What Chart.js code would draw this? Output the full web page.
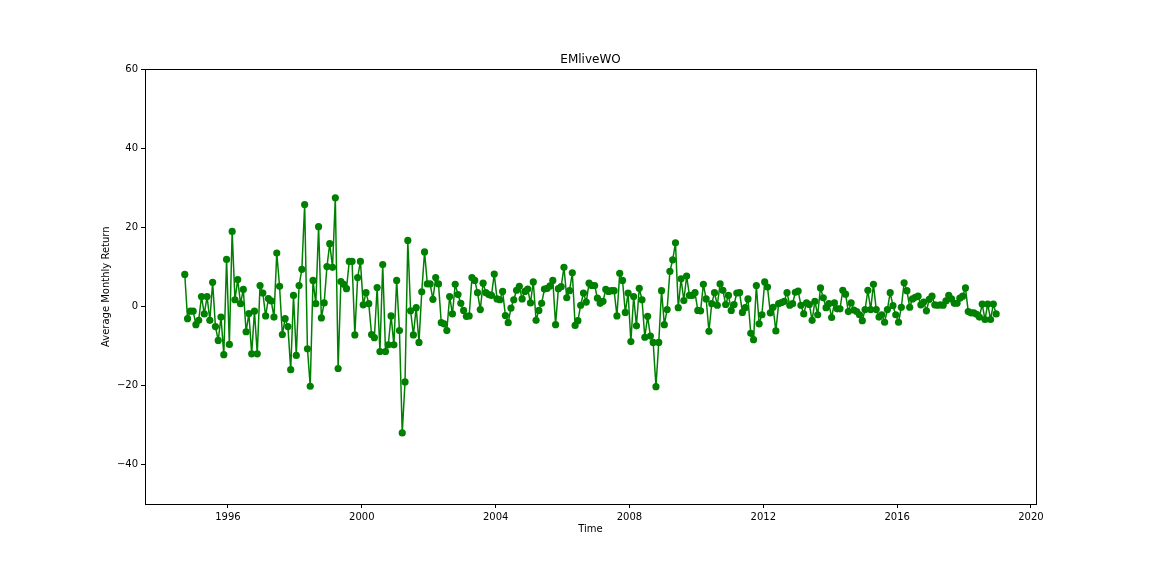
<!DOCTYPE html>
<html>
<head>
<meta charset="utf-8">
<script src="https://cdn.jsdelivr.net/npm/chart.js@4"></script>
<style>
  html, body { margin: 0; padding: 0; background: #fff; }
  #wrap { width: 1152px; height: 576px; }
  canvas { display: block; }
</style>
</head>
<body>
<div id="wrap"><canvas id="c" width="1152" height="576"></canvas></div>
<script>
// ---- data ----
const chartTitle = "EMliveWO";
const xAxisTitle = "Time";
const yAxisTitle = "Average Monthly Return";
const startYear = 1994;
const startMonth = 9; // first observation: Sep 1994 (monthly)
const returnsValues = [
  8.1, -3.1, -1.2, -1.2, -4.6, -3.5, 2.5, -1.9, 2.5, -3.5,
  6.1, -5.1, -8.6, -2.7, -12.2, 11.9, -9.6, 19.0, 1.7, 6.8,
  0.7, 4.3, -6.4, -1.8, -12.0, -1.2, -12.0, 5.3, 3.4, -2.4,
  2.0, 1.4, -2.7, 13.5, 5.1, -7.1, -3.1, -5.1, -16.0, 2.8,
  -12.4, 5.3, 9.4, 25.8, -10.7, -20.2, 6.6, 0.7, 20.2, -2.9,
  0.9, 10.1, 15.9, 9.9, 27.5, -15.7, 6.3, 5.6, 4.5, 11.4,
  11.4, -7.2, 7.3, 11.4, 0.4, 3.5, 0.7, -7.1, -7.9, 4.8,
  -11.4, 10.6, -11.4, -9.7, -2.4, -9.7, 6.6, -6.1, -32.0, -19.1,
  16.7, -1.1, -7.2, -0.3, -9.1, 3.7, 13.8, 5.7, 5.7, 1.8,
  7.3, 5.7, -4.1, -4.4, -6.1, 2.5, -1.9, 5.6, 3.0, 0.8,
  -1.0, -2.5, -2.4, 7.3, 6.6, 3.5, -0.8, 5.9, 3.5, 3.0,
  2.8, 8.2, 1.9, 1.7, 3.8, -2.3, -4.1, -0.4, 1.7, 4.1,
  5.1, 1.9, 3.8, 4.4, 0.9, 6.2, -3.5, -1.0, 0.8, 4.4,
  4.6, 5.2, 6.6, -4.6, 4.5, 5.0, 9.9, 2.2, 4.0, 8.5,
  -4.8, -3.6, 0.3, 3.4, 1.1, 5.9, 5.3, 5.3, 2.1, 0.8,
  1.3, 4.3, 3.8, 4.0, 4.0, -2.4, 8.4, 6.6, -1.5, 3.4,
  -8.9, 2.5, -4.9, 4.6, 1.7, -7.8, -2.5, -7.5, -9.1, -20.3,
  -9.1, 4.0, -4.6, -0.8, 8.9, 11.8, 16.1, -0.3, 7.0, 1.5,
  7.7, 2.8, 2.8, 3.5, -1.0, -1.1, 5.6, 1.9, -6.3, 0.7,
  3.5, 0.3, 5.7, 4.1, 0.5, 2.8, -1.0, 0.5, 3.4, 3.5,
  -1.5, -0.3, 1.9, -6.8, -8.4, 5.3, -4.4, -2.1, 6.2, 4.9,
  -1.6, -0.2, -6.2, 0.7, 1.0, 1.3, 3.5, 0.3, 0.7, 3.6,
  3.9, 0.3, -1.9, 0.9, 0.5, -3.5, 1.3, -2.1, 4.7, 2.2,
  -0.3, 0.7, -2.8, 0.9, -0.6, -0.6, 4.1, 3.1, -1.3, 0.9,
  -0.9, -1.3, -2.1, -3.6, -0.8, 4.1, -0.8, 5.6, -0.8, -2.7,
  -2.1, -4.0, -0.8, 3.5, 0.2, -2.1, -4.0, -0.2, 6.0, 4.0,
  -0.2, 1.9, 2.3, 2.6, 0.4, 1.1, -1.1, 1.8, 2.6, 0.4,
  0.3, 0.4, 0.3, 1.4, 2.8, 1.9, 0.8, 0.8, 2.1, 2.6,
  4.7, -1.3, -1.6, -1.6, -2.0, -2.7, 0.6, -3.3, 0.6, -3.3,
  0.6, -1.9
];
const xTickValues = [1996, 2000, 2004, 2008, 2012, 2016, 2020];
const xTickLabels = ["1996", "2000", "2004", "2008", "2012", "2016", "2020"];
const yTickValues = [-40, -20, 0, 20, 40, 60];
const yTickLabels = ["\u221240", "\u221220", "0", "20", "40", "60"];

// monthly dates (mid-month, as decimal years)
const monthDates = returnsValues.map((_, i) => {
  const m = startMonth - 1 + i;
  return startYear + Math.floor(m / 12) + ((m % 12) + 0.5) / 12;
});
const points = returnsValues.map((v, i) => ({ x: monthDates[i], y: v }));

const FONT = "'DejaVu Sans', sans-serif";
Chart.defaults.font.family = FONT;
Chart.defaults.color = '#000';

const frame = {
  id: 'frame',
  afterDraw(chart) {
    const a = chart.chartArea, ctx = chart.ctx;
    ctx.save();
    ctx.strokeStyle = '#000';
    ctx.lineWidth = 1;
    ctx.strokeRect(Math.round(a.left) + 0.5, Math.round(a.top) + 0.5,
                   Math.round(a.right - a.left), Math.round(a.bottom - a.top));
    ctx.restore();
  }
};

new Chart(document.getElementById('c'), {
  type: 'line',
  data: {
    datasets: [{
      data: points,
      borderColor: '#008000',
      backgroundColor: '#008000',
      borderWidth: 1.5,
      borderJoinStyle: 'round',
      borderCapStyle: 'round',
      tension: 0,
      pointRadius: 3.6,
      pointBorderWidth: 0,
      pointBackgroundColor: '#008000',
      pointHoverRadius: 3.6,
      fill: false
    }]
  },
  options: {
    responsive: false,
    animation: false,
    devicePixelRatio: 1,
    layout: { padding: { left: 0, right: 116, top: 0, bottom: 0 } },
    plugins: {
      legend: { display: false },
      tooltip: { enabled: false },
      title: {
        display: true,
        text: chartTitle,
        fullSize: false,
        color: '#000',
        font: { family: FONT, size: 12, weight: 'normal', lineHeight: 1.2 },
        padding: { top: 53, bottom: 2 }
      }
    },
    scales: {
      x: {
        type: 'linear',
        min: 1993.52,
        max: 2020.15,
        afterFit(s) { s.height = 72; },
        afterBuildTicks(s) { s.ticks = xTickValues.map(v => ({ value: v })); },
        grid: { drawOnChartArea: false, drawTicks: true, tickLength: 4, color: '#000' },
        border: { display: true, color: '#000', width: 1 },
        ticks: {
          color: '#000', padding: 3, maxRotation: 0, autoSkip: false,
          font: { family: FONT, size: 10 },
          callback: (v) => { const i = xTickValues.indexOf(v); return i >= 0 ? xTickLabels[i] : ''; }
        },
        title: {
          display: true, text: xAxisTitle, color: '#000',
          font: { family: FONT, size: 10, lineHeight: 1.2 },
          padding: { top: 4, bottom: 41 }
        }
      },
      y: {
        type: 'linear',
        min: -50,
        max: 60,
        afterFit(s) { s.width = 145; },
        afterBuildTicks(s) { s.ticks = yTickValues.map(v => ({ value: v })); },
        grid: { drawOnChartArea: false, drawTicks: true, tickLength: 4, color: '#000' },
        border: { display: true, color: '#000', width: 1 },
        ticks: {
          color: '#000', padding: 3, autoSkip: false,
          font: { family: FONT, size: 10 },
          callback: (v) => { const i = yTickValues.indexOf(v); return i >= 0 ? yTickLabels[i] : ''; }
        },
        title: {
          display: true, text: yAxisTitle, color: '#000',
          font: { family: FONT, size: 10, lineHeight: 1.2 },
          padding: { top: 100, bottom: 4 }
        }
      }
    }
  },
  plugins: [frame]
});
</script>
</body>
</html>
